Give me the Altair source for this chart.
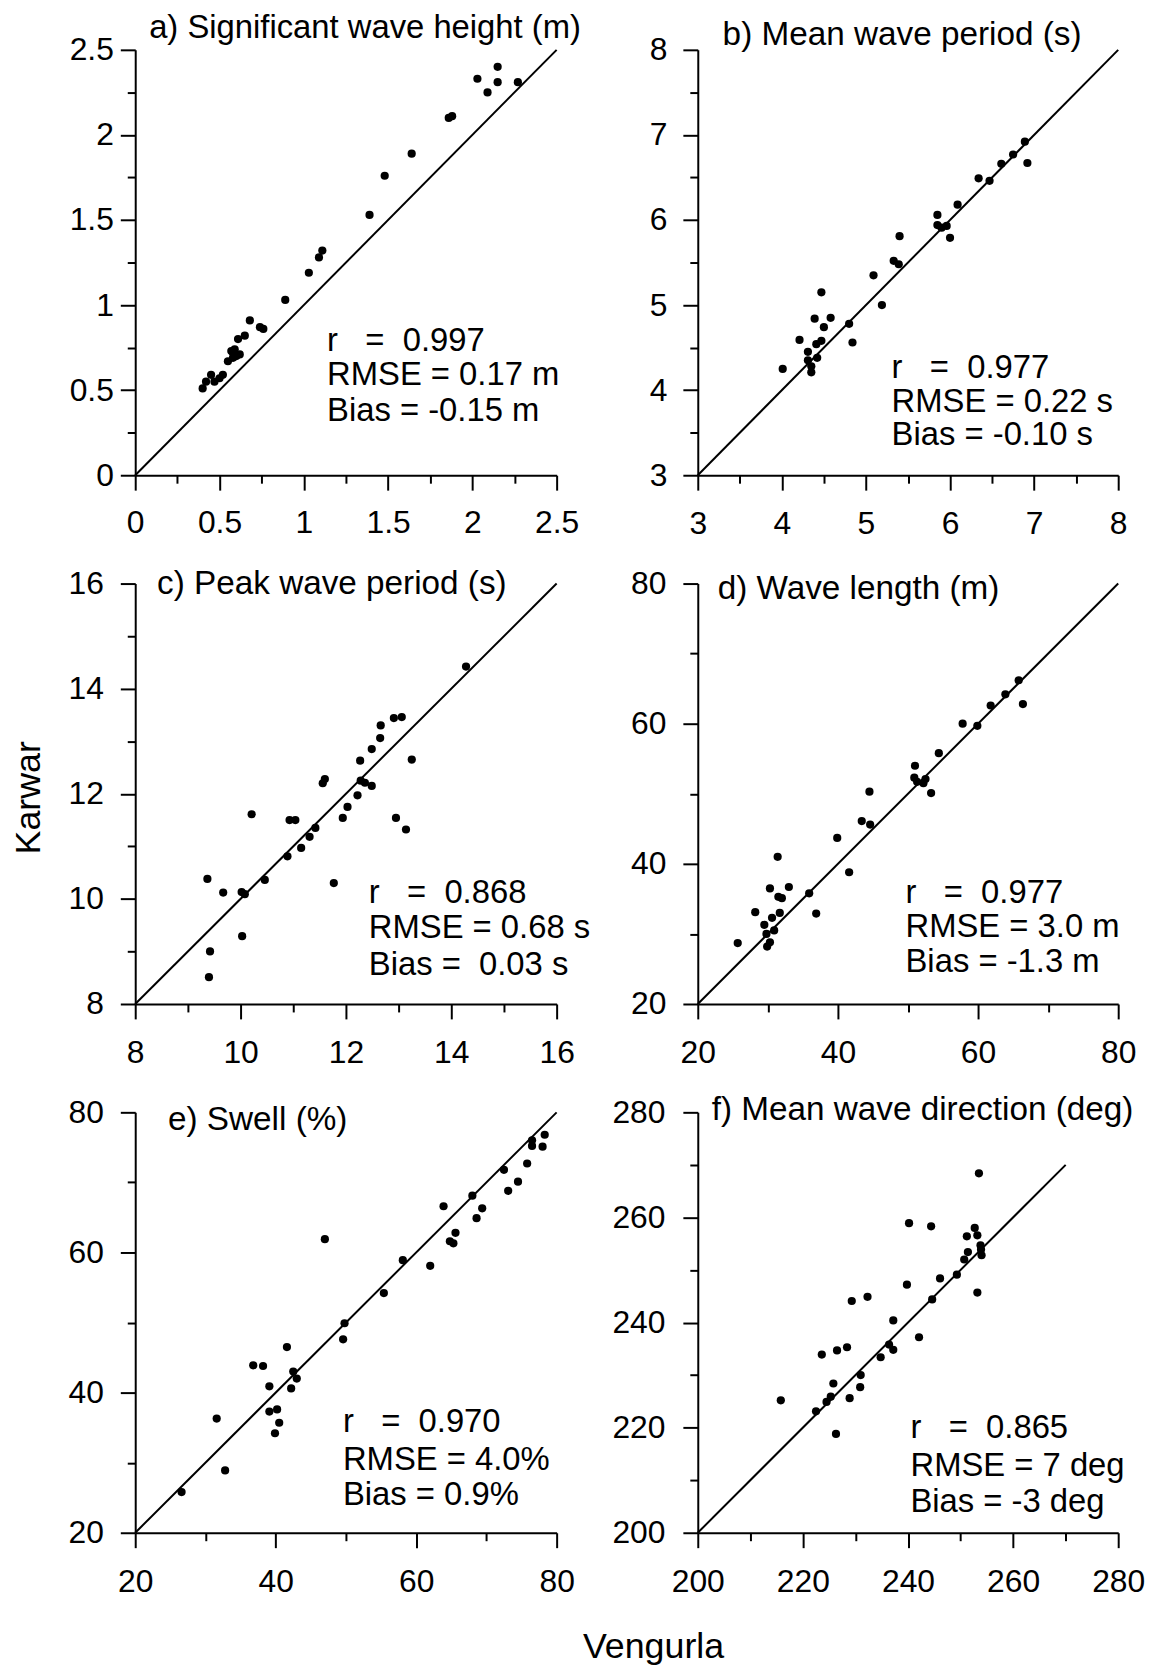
import altair as alt
import pandas as pd

FONT = "Liberation Sans"
NB = "\u00a0"

# ---------------- data ----------------
# a) Significant wave height (m)
a_x = [0.40, 0.42, 0.45, 0.47, 0.50, 0.52, 0.55, 0.57, 0.58, 0.58, 0.59, 0.60, 0.61, 0.62,
       0.65, 0.68, 0.74, 0.76, 0.89, 1.03, 1.09, 1.11, 1.39, 1.48, 1.64, 1.86, 1.88, 2.03,
       2.09, 2.15, 2.15, 2.27]
a_y = [0.51, 0.55, 0.59, 0.55, 0.57, 0.59, 0.67, 0.73, 0.69, 0.72, 0.74, 0.70, 0.80, 0.71,
       0.82, 0.91, 0.87, 0.86, 1.03, 1.19, 1.28, 1.32, 1.53, 1.76, 1.89, 2.10, 2.11, 2.33,
       2.25, 2.40, 2.31, 2.31]
# b) Mean wave period (s)
b_x = [4.01, 4.21, 4.31, 4.31, 4.35, 4.35, 4.39, 4.41, 4.42, 4.47, 4.47, 4.50, 4.58, 4.80,
       4.84, 5.09, 5.19, 5.33, 5.39, 5.40, 5.85, 5.85, 5.90, 5.96, 6.00, 6.09, 6.34, 6.47,
       6.61, 6.75, 6.89, 6.92]
b_y = [4.25, 4.59, 4.45, 4.35, 4.28, 4.21, 4.84, 4.54, 4.38, 5.15, 4.58, 4.74, 4.85, 4.78,
       4.56, 5.35, 5.00, 5.52, 5.48, 5.81, 6.06, 5.94, 5.91, 5.93, 5.79, 6.18, 6.49, 6.46,
       6.66, 6.77, 6.92, 6.67]
# c) Peak wave period (s)
c_x = [9.37, 9.42, 9.40, 9.67, 10.02, 10.08, 10.03, 10.21, 10.46, 10.89, 10.93, 11.04,
       11.15, 11.31, 11.42, 11.56, 11.60, 11.77, 11.94, 12.03, 12.22, 12.27, 12.28, 12.36,
       12.49, 12.49, 12.65, 12.66, 12.91, 13.06, 12.95, 13.14, 13.25, 14.28]
c_y = [10.38, 9.00, 8.51, 10.12, 10.13, 10.09, 9.29, 11.61, 10.36, 10.81, 11.50, 11.50,
       10.97, 11.18, 11.35, 12.20, 12.28, 10.30, 11.54, 11.75, 11.97, 12.63, 12.25, 12.21,
       12.15, 12.85, 13.06, 13.30, 13.44, 13.46, 11.54, 11.32, 12.65, 14.42]
# d) Wave length (m)
d_x = [25.7, 28.2, 29.5, 29.8, 29.9, 30.3, 30.3, 30.6, 30.9, 31.4, 31.5, 31.7, 32.0, 33.0,
       35.9, 36.9, 39.9, 41.6, 43.4, 44.5, 44.6, 51.0, 50.9, 51.3, 52.2, 52.5, 53.3, 54.4,
       57.8, 59.9, 61.8, 63.9, 65.8, 66.4]
d_y = [28.7, 33.1, 31.3, 30.0, 28.2, 28.8, 36.5, 32.3, 30.5, 41.0, 35.3, 33.0, 35.1, 36.7,
       35.8, 32.9, 43.7, 38.8, 46.1, 50.3, 45.6, 54.0, 52.3, 51.7, 51.5, 52.1, 50.1, 55.8,
       60.0, 59.7, 62.6, 64.2, 66.2, 62.8]
# e) Swell (%)
e_x = [26.6, 31.6, 32.8, 36.8, 38.2, 39.1, 39.1, 40.2, 39.9, 40.5, 41.6, 42.2, 42.5, 43.0,
       47.0, 49.6, 49.8, 55.4, 58.1, 62.0, 63.9, 64.8, 65.3, 65.6, 68.0, 68.6, 69.4, 72.5,
       73.1, 74.5, 75.8, 76.5, 76.5, 78.0, 78.3]
e_y = [25.8, 36.3, 28.9, 43.9, 43.8, 40.9, 37.3, 37.6, 34.2, 35.7, 46.5, 40.6, 43.0, 42.0,
       61.9, 47.6, 49.9, 54.2, 58.9, 58.1, 66.6, 61.6, 61.3, 62.8, 68.1, 64.9, 66.3, 71.8,
       68.8, 70.1, 72.7, 76.0, 75.2, 75.1, 76.8]
# f) Mean wave direction (deg)
f_x = [215.8, 222.5, 223.6, 224.5, 225.3, 225.8, 226.3, 226.5, 228.4, 228.9, 229.3, 230.9,
       231.0, 232.3, 234.8, 236.4, 237.2, 237.2, 239.8, 240.2, 242.1, 244.4, 244.6, 246.1,
       249.3, 250.7, 251.4, 251.2, 252.7, 253.2, 253.2, 253.5, 253.8, 253.9, 254.0]
f_y = [225.2, 223.1, 233.9, 224.9, 225.9, 228.4, 218.8, 234.7, 235.3, 225.6, 244.1, 227.7,
       230.0, 244.9, 233.4, 235.8, 234.8, 240.4, 247.2, 258.9, 237.2, 258.3, 244.4, 248.4,
       249.1, 252.0, 253.4, 256.4, 258.0, 256.6, 245.7, 268.4, 254.7, 253.9, 252.8]

# panel titles and statistics text
titles = ["a) Significant wave height (m)", "b) Mean wave period (s)",
          "c) Peak wave period (s)", "d) Wave length (m)",
          "e) Swell (%)", "f) Mean wave direction (deg)"]
stats = [
    ["r   =  0.997", "RMSE = 0.17 m", "Bias = -0.15 m"],
    ["r   =  0.977", "RMSE = 0.22 s", "Bias = -0.10 s"],
    ["r   =  0.868", "RMSE = 0.68 s", "Bias =  0.03 s"],
    ["r   =  0.977", "RMSE = 3.0 m", "Bias = -1.3 m"],
    ["r   =  0.970", "RMSE = 4.0%", "Bias = 0.9%"],
    ["r   =  0.865", "RMSE = 7 deg", "Bias = -3 deg"],
]
# axis ranges, tick values (major + minor) and 1:1 line end points
domains = [[0, 2.5], [3, 8], [8, 16], [20, 80], [20, 80], [200, 280]]
tick_values = [
    [0, 0.25, 0.5, 0.75, 1, 1.25, 1.5, 1.75, 2, 2.25, 2.5],
    [3, 3.5, 4, 4.5, 5, 5.5, 6, 6.5, 7, 7.5, 8],
    [8, 9, 10, 11, 12, 13, 14, 15, 16],
    [20, 30, 40, 50, 60, 70, 80],
    [20, 30, 40, 50, 60, 70, 80],
    [200, 210, 220, 230, 240, 250, 260, 270, 280],
]
major_steps = [0.5, 1, 2, 20, 20, 20]
diagonals = [[0, 2.5], [3, 8], [8, 16], [20, 80], [20, 80], [200, 270]]
xs = [a_x, b_x, c_x, d_x, e_x, f_x]
ys = [a_y, b_y, c_y, d_y, e_y, f_y]

# ---------------- layout / style ----------------
sizes = [(424, 428), (423, 428), (424, 423), (423, 423), (424, 423), (423, 423)]
title_pos = [(14, -11.5), (25, -5), (22, 10), (20, 16), (33, 18), (14, 8)]
title_size = [33, 33.5, 33.5, 33.5, 33.5, 33.5]
stats_pos = [(193, [303, 337, 373]), (195, [330, 364, 398]), (235, [321, 357, 394]),
             (209, [321, 356, 391]), (209, [322, 360, 395]), (214, [328, 366, 402])]
ylab_pad = [7, 16, 17, 17, 17, 18]
xlab_pad = [18, 19, 19, 19, 19, 19]


def nb(s):
    return s.replace(" ", NB)


def panel(i):
    step = major_steps[i]
    test = f"abs(datum.value / {step} - round(datum.value / {step})) < 1e-6"
    label_expr = f"({test}) ? format(datum.value, '~g') : ''"
    tick_size = {"condition": {"test": test, "value": 15}, "value": 8}
    common = dict(values=tick_values[i], labelExpr=label_expr, tickSize=tick_size,
                  labelOverlap=False, labelFlush=False, labelBound=False)
    xkw = dict(common, labelPadding=xlab_pad[i])
    ykw = dict(common, labelPadding=ylab_pad[i])
    xtitle = None
    ytitle = None
    if i == 4:
        xtitle = "Vengurla"
        xkw.update(titleX=521, titleY=126, titleAlign="center", titleBaseline="alphabetic")
    if i == 2:
        ytitle = "Karwar"
        ykw.update(titleX=-96, titleY=215, titleAngle=270, titleAlign="center",
                   titleBaseline="alphabetic")
    scale = alt.Scale(domain=domains[i], nice=False, zero=False)
    X = alt.X("x:Q", scale=scale, axis=alt.Axis(**xkw), title=xtitle)
    Y = alt.Y("y:Q", scale=scale, axis=alt.Axis(**ykw), title=ytitle)

    pts = alt.Chart(pd.DataFrame({"x": xs[i], "y": ys[i]})).mark_circle(
        size=68, color="black", opacity=1).encode(x=X, y=Y)
    diag = alt.Chart(pd.DataFrame({"x": diagonals[i], "y": diagonals[i]})).mark_line(
        color="black", strokeWidth=2).encode(x=X, y=Y)

    tx, ty = title_pos[i]
    ttl = alt.Chart(pd.DataFrame({"t": [titles[i]]})).mark_text(
        align="left", baseline="alphabetic", font=FONT, fontSize=title_size[i], color="black"
    ).encode(x=alt.value(tx), y=alt.value(ty), text="t:N")

    sx, sys_ = stats_pos[i]
    layers = [diag, pts, ttl]
    for line, yy in zip(stats[i], sys_):
        layers.append(
            alt.Chart(pd.DataFrame({"t": [nb(line)]})).mark_text(
                align="left", baseline="alphabetic", font=FONT, fontSize=33, color="black"
            ).encode(x=alt.value(sx), y=alt.value(yy), text="t:N")
        )
    w, h = sizes[i]
    return alt.layer(*layers).properties(width=w, height=h)


p = [panel(i) for i in range(6)]
chart = alt.concat(
    *p, columns=2, align="each", bounds="flush",
    spacing={"row": 109, "column": 142},
).properties(
    padding={"left": 2, "top": -1, "right": 5, "bottom": 0},
    background="white",
).configure_axis(
    domainColor="black", domainWidth=2, tickColor="black", tickWidth=2,
    labelColor="black", labelFont=FONT, labelFontSize=32,
    titleFont=FONT, titleFontSize=36, titleFontWeight="normal", titleColor="black",
    grid=False,
).configure_view(stroke="transparent")

chart.save("out.html", embed_options={"renderer": "svg", "actions": False})
